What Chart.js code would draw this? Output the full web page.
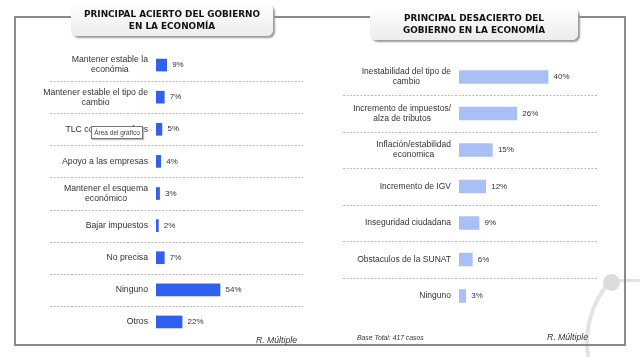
<!DOCTYPE html>
<html><head><meta charset="utf-8">
<script src="https://cdn.jsdelivr.net/npm/chart.js@4.4.1/dist/chart.umd.min.js"></script>
<style>
html,body{margin:0;padding:0;background:#fff;}
#root{position:relative;width:640px;height:357px;overflow:hidden;font-family:"Liberation Sans",Arial,sans-serif;}
.arc{position:absolute;left:585px;top:249px;width:186px;height:186px;box-sizing:border-box;border-radius:50%;border:4px solid transparent;border-left-color:#e3e3e3;border-bottom-color:#e3e3e3;}
.knob{position:absolute;left:603px;top:274px;width:17px;height:17px;border-radius:50%;background:#dcdcdc;}
.knobline{position:absolute;left:618px;top:279px;width:22px;height:3px;background:#e2e2e2;}
.frame{position:absolute;left:14px;top:16px;width:608px;height:326px;border:2px solid #8a8a8a;}
.title{position:absolute;height:32px;border-radius:6px;background:linear-gradient(#fefefe,#ececec);box-shadow:2px 2px 2px #9a9a9a;font-family:"DejaVu Sans",sans-serif;font-weight:bold;font-size:8.9px;line-height:12px;color:#111;text-align:center;display:flex;flex-direction:column;justify-content:center;}
.cbox{position:absolute;top:0;width:320px;height:357px;}
.note{position:absolute;font-style:italic;color:#333;line-height:12px;white-space:nowrap;}
.tip{position:absolute;left:91px;top:126px;width:50px;height:11px;border:1px solid #777;background:#fff;font-size:6.5px;line-height:11px;color:#444;text-align:center;box-shadow:1px 1px 1px #bbb;}
</style></head>
<body><div id="root">
<div class="arc"></div><div class="knobline"></div><div class="knob"></div>
<div class="frame"></div>
<div class="cbox" style="left:0"><canvas id="c1"></canvas></div>
<div class="cbox" style="left:320px"><canvas id="c2"></canvas></div>
<div class="title" style="left:71px;top:4px;width:202px;"><div>PRINCIPAL ACIERTO DEL GOBIERNO</div><div>EN LA ECONOMÍA</div></div>
<div class="title" style="left:370px;top:8px;width:208px;"><div>PRINCIPAL DESACIERTO DEL</div><div>GOBIERNO EN LA ECONOMÍA</div></div>
<div class="tip">Área del gráfico</div>
<div class="note" style="left:0;width:297px;text-align:right;top:334px;font-size:8.7px;">R. Múltiple</div>
<div class="note" style="left:320px;width:268px;text-align:right;top:331px;font-size:8.7px;">R. Múltiple</div>
<div class="note" style="left:357px;top:332px;font-size:6.8px;">Base Total: 417 casos</div>
</div>
<script>
const leftCategories = [["Mantener estable la","económia"],["Mantener estable el tipo de","cambio"],"TLC con otros países","Apoyo a las empresas",["Mantener el esquema","económico"],"Bajar impuestos","No precisa","Ninguno","Otros"];
const leftValues = [9,7,5,4,3,2,7,54,22];
const rightCategories = [["Inestabilidad del tipo de","cambio"],["Incremento de impuestos/","alza de tributos"],["Inflación/estabilidad","economica"],"Incremento de IGV","Inseguridad ciudadana","Obstaculos de la SUNAT","Ninguno"];
const rightValues = [40,26,15,12,9,6,3];

const decor = {
  id:'decor',
  beforeDatasetsDraw(chart, args, o){
    const y = chart.scales.y, ca = chart.chartArea, ctx = chart.ctx;
    ctx.save();
    ctx.strokeStyle = '#b8b8b8'; ctx.lineWidth = 1; ctx.setLineDash([2,1.5]);
    for (let i = 0; i < chart.data.labels.length - 1; i++){
      const py = Math.round((y.getPixelForTick(i) + y.getPixelForTick(i+1)) / 2) + 0.5;
      ctx.beginPath(); ctx.moveTo(ca.left - o.sepLeft, py); ctx.lineTo(ca.right, py); ctx.stroke();
    }
    ctx.restore();
  },
  afterDatasetsDraw(chart, args, o){
    const y = chart.scales.y, ca = chart.chartArea, ctx = chart.ctx;
    const meta = chart.getDatasetMeta(0), data = chart.data.datasets[0].data;
    ctx.save();
    ctx.fillStyle = '#333'; ctx.textBaseline = 'middle';
    ctx.font = o.valueSize + 'px "Liberation Sans", Arial, sans-serif';
    ctx.textAlign = 'left';
    meta.data.forEach((bar, i) => ctx.fillText(data[i] + '%', bar.x + o.valueGap, bar.y));
    ctx.font = o.labelSize + 'px "Liberation Sans", Arial, sans-serif';
    ctx.textAlign = 'center';
    chart.data.labels.forEach((lab, i) => {
      const lines = Array.isArray(lab) ? lab : [lab];
      const w = Math.max(...lines.map(l => ctx.measureText(l).width));
      const cx = ca.left - o.labelGap - w / 2;
      const cy = y.getPixelForTick(i);
      lines.forEach((l, j) => ctx.fillText(l, cx, cy + (j - (lines.length - 1) / 2) * o.lineHeight));
    });
    ctx.restore();
  }
};

function makeChart(id, labels, values, color, cfg){
  return new Chart(document.getElementById(id), {
    type:'bar',
    data:{labels:labels, datasets:[{data:values, backgroundColor:color, barThickness:cfg.barThickness}]},
    options:{
      indexAxis:'y', responsive:true, maintainAspectRatio:false, animation:false,
      layout:{padding:cfg.padding},
      scales:{
        x:{display:false, min:0, max:cfg.max},
        y:{ticks:{display:false}, grid:{display:false}, border:{display:false},
           afterFit(s){ s.width = cfg.axisWidth; }}
      },
      plugins:{legend:{display:false}, tooltip:{enabled:false},
        decor:cfg.decor}
    },
    plugins:[decor]
  });
}

makeChart('c1', leftCategories, leftValues, '#2f60f0', {
  barThickness:12, max:124, axisWidth:156,
  padding:{top:49, bottom:19, right:17, left:0},
  decor:{sepLeft:106, valueGap:5.5, valueSize:8, labelSize:8.7, labelGap:8, lineHeight:10}
});
makeChart('c2', rightCategories, rightValues, '#a8c0f6', {
  barThickness:13, max:62, axisWidth:139,
  padding:{top:58.75, bottom:42.75, right:43, left:0},
  decor:{sepLeft:116, valueGap:5.5, valueSize:8, labelSize:8.5, labelGap:8, lineHeight:10}
});
</script>
</body></html>
